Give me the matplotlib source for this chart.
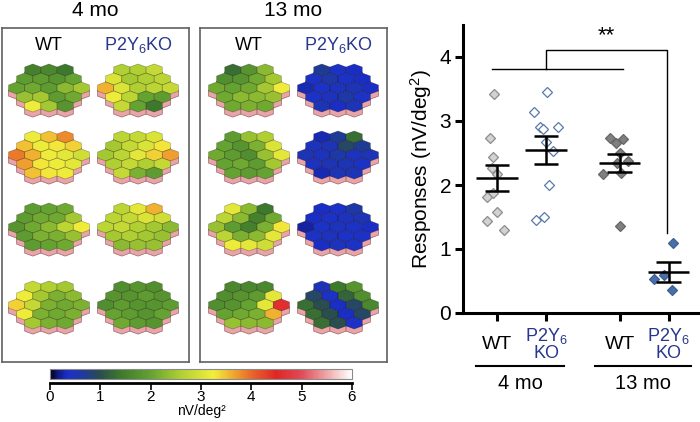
import numpy as np
import matplotlib
matplotlib.use("Agg")
import matplotlib.pyplot as plt
from matplotlib.colors import LinearSegmentedColormap, Normalize
from matplotlib.collections import PolyCollection
from matplotlib.cm import ScalarMappable

plt.rcParams['font.family'] = ['Liberation Sans', 'DejaVu Sans']
plt.rcParams['mathtext.fontset'] = 'custom'
plt.rcParams['mathtext.rm'] = 'Liberation Sans'
plt.rcParams['mathtext.it'] = 'Liberation Sans:italic'

# ---- hex maps (19 cells each, rows of 3,4,5,4,3 from top) ----
wt_4mo = [
    [1.5, 1.6, 1.4, 1.9, 1.9, 1.8, 2.0, 2.0, 2.1, 1.9, 2.3, 2.5, 2.4, 2.5, 1.9, 2.1, 3.2, 2.5, 1.8],
    [3.2, 3.5, 3.8, 3.5, 3.2, 3.3, 3.4, 3.9, 3.6, 3.2, 3.1, 2.9, 3.7, 3.3, 3.2, 3.1, 3.5, 3.3, 3.2],
    [1.9, 2.0, 2.1, 1.9, 2.1, 2.1, 2.5, 1.8, 2.1, 2.3, 2.7, 3.2, 1.9, 2.2, 2.2, 2.4, 1.9, 2.0, 2.1],
    [2.8, 2.6, 2.5, 3.2, 2.5, 2.2, 2.3, 3.4, 2.8, 2.2, 2.1, 2.2, 3.2, 2.2, 2.1, 2.2, 2.5, 2.2, 2.1],
]
ko_4mo = [
    [2.6, 2.6, 2.8, 3.0, 2.5, 2.6, 2.7, 3.6, 3.0, 2.6, 2.7, 2.8, 3.2, 2.7, 2.0, 1.9, 2.8, 2.0, 1.4],
    [2.7, 2.8, 3.0, 2.5, 2.8, 3.0, 3.3, 2.5, 2.7, 3.1, 3.4, 3.7, 2.6, 2.8, 2.6, 2.8, 2.8, 2.2, 1.9],
    [2.7, 3.1, 3.6, 2.7, 2.8, 3.0, 2.9, 2.7, 2.8, 2.6, 2.5, 2.3, 2.5, 2.6, 2.5, 2.4, 2.3, 2.4, 2.4],
    [1.7, 1.8, 1.7, 1.8, 1.8, 1.9, 1.8, 1.7, 1.9, 1.8, 1.8, 1.9, 2.0, 1.9, 1.8, 2.0, 2.1, 1.9, 1.8],
]
wt_13mo = [
    [1.3, 1.8, 2.3, 1.7, 1.8, 2.1, 2.5, 2.1, 2.0, 2.1, 2.5, 3.2, 2.1, 2.3, 2.3, 2.4, 2.1, 2.2, 2.1],
    [1.9, 2.4, 2.6, 2.0, 1.8, 2.2, 3.0, 2.1, 1.9, 1.7, 2.4, 3.1, 2.0, 2.1, 1.9, 2.5, 2.0, 1.9, 2.0],
    [3.1, 2.3, 1.4, 2.7, 2.3, 1.5, 2.1, 2.4, 1.9, 1.5, 2.2, 3.3, 2.7, 2.2, 2.3, 3.1, 3.2, 3.1, 2.9],
    [1.6, 1.6, 1.6, 1.7, 1.8, 1.9, 3.1, 1.7, 1.8, 2.0, 3.1, 4.6, 2.0, 2.1, 2.2, 3.6, 2.4, 2.3, 2.3],
]
ko_13mo = [
    [0.7, 0.4, 0.35, 0.4, 0.6, 0.4, 0.35, 0.3, 0.4, 0.45, 0.5, 0.35, 0.4, 0.45, 0.6, 0.4, 0.5, 0.35, 0.5],
    [0.3, 0.7, 1.3, 0.45, 0.5, 0.9, 0.7, 0.5, 0.45, 0.6, 0.45, 0.5, 0.45, 0.5, 0.5, 0.4, 0.3, 0.5, 0.5],
    [0.35, 0.4, 0.6, 0.35, 0.4, 0.45, 0.5, 0.25, 0.4, 0.45, 0.4, 0.35, 0.4, 0.45, 0.4, 0.4, 0.35, 0.45, 0.4],
    [0.5, 1.4, 1.8, 0.9, 0.4, 1.2, 1.7, 1.3, 1.0, 0.35, 0.9, 1.6, 1.3, 1.0, 0.35, 0.9, 1.3, 1.0, 0.4],
]

# colour scale of the maps (nV/deg^2)
cmap_vals = [0.0, 0.15, 0.35, 0.65, 1.0, 1.4, 2.0, 2.6, 3.25, 3.6, 4.0, 4.5, 5.0, 5.6, 6.0]
cmap_cols = ['#000018', '#101a80', '#1c30cc', '#1e3a9c', '#2a4e4c', '#3e7a2c', '#64a232',
             '#b0d032', '#f2ee3c', '#f0b030', '#e8682a', '#e02626', '#e04a56', '#f0b8b8', '#ffffff']

# ---- scatter data ----
groups = ['WT', 'P2Y$_6$\nKO', 'WT', 'P2Y$_6$\nKO']
x_pos = [1, 2, 3.5, 4.5]
resp = [
    [3.42, 2.74, 2.44, 2.26, 2.17, 1.88, 1.82, 1.58, 1.43, 1.30],
    [3.46, 3.14, 2.90, 2.88, 2.90, 2.67, 2.53, 2.00, 1.45, 1.50],
    [2.74, 2.66, 2.72, 2.50, 2.35, 2.38, 2.17, 2.19, 1.36],
    [1.09, 0.59, 0.53, 0.36],
]
jitter = [
    [-0.06, -0.14, -0.08, -0.10, 0.00, -0.08, -0.20, 0.00, -0.20, 0.14],
    [0.02, -0.24, -0.12, -0.06, 0.24, 0.00, 0.14, 0.06, -0.20, -0.04],
    [-0.20, -0.08, 0.06, 0.00, -0.06, 0.18, -0.33, 0.02, 0.00],
    [0.08, -0.10, -0.29, 0.06],
]
face = ['#d2d2d2', '#ffffff', '#808080', '#4a6ea8']
edge = ['#8c8c8c', '#5a78aa', '#666666', '#3e5f96']
ko_blue = '#26378c'

fig = plt.figure(figsize=(7, 4.22), dpi=100)
W, H = 700.0, 422.0

def px_axes(x0, y0, w, h):
    return fig.add_axes([x0 / W, 1 - (y0 + h) / H, w / W, h / H])

# frames around the two age groups
for x0, title in [(2, '4 mo'), (200, '13 mo')]:
    box = px_axes(x0, 28, 187, 334)
    box.set_xticks([])
    box.set_yticks([])
    for s in box.spines.values():
        s.set_color('#606060')
        s.set_linewidth(1.2)
    box.set_title(title, fontsize=15, pad=9)

col_x = [49, 138, 249, 338]
row_y = [88, 155, 227, 305]
col_lab = ['WT', 'P2Y$_6$KO', 'WT', 'P2Y$_6$KO']
for cx, lab in zip(col_x, col_lab):
    fig.text(cx / W, 1 - 45 / H, lab, ha='center', va='center', fontsize=13,
             color='black' if lab == 'WT' else ko_blue)

# hex geometry
cmap = LinearSegmentedColormap.from_list(
    'erg', [(v / 6.0, c) for v, c in zip(cmap_vals, cmap_cols)])
norm = Normalize(0, 6)
centers = []
for j, n in enumerate([3, 4, 5, 4, 3]):
    for i in range(n):
        centers.append(((i - (n - 1) / 2) * np.sqrt(3), (2 - j) * 1.5))
centers = np.array(centers)
ang = np.deg2rad(90 + 60 * np.arange(6))
hexagon = np.column_stack([np.cos(ang), np.sin(ang)])
faces = [c + hexagon for c in centers]
sides = [c + hexagon - [0, 0.85] for c in centers]

maps = [wt_4mo, ko_4mo, wt_13mo, ko_13mo]
for ci, m in enumerate(maps):
    for ri, vals in enumerate(m):
        ax_m = px_axes(col_x[ci] - 50, row_y[ri] - 36, 100, 72)
        ax_m.axis('off')
        ax_m.add_collection(PolyCollection(sides, facecolors='#e8a4a8',
                                           edgecolors='#9a6464', linewidths=0.5))
        ax_m.add_collection(PolyCollection(faces, facecolors=cmap(norm(np.array(vals))),
                                           edgecolors=(0, 0, 0, 0.3), linewidths=0.5))
        ax_m.set_xlim(-5.35, 5.35)
        ax_m.set_ylim(-6.0, 6.0)

# colour bar
cax = px_axes(50, 369, 302, 10)
cb = fig.colorbar(ScalarMappable(norm=norm, cmap=cmap), cax=cax, orientation='horizontal')
cb.set_ticks([])
cb.outline.set_edgecolor('#8a8a8a')
cb.outline.set_linewidth(0.8)
tax = px_axes(50, 383, 302, 0.01)
for s in ['left', 'right', 'top']:
    tax.spines[s].set_visible(False)
tax.spines['bottom'].set_linewidth(2)
tax.set_yticks([])
tax.set_xlim(0, 6)
tax.set_xticks(range(7))
tax.tick_params(axis='x', length=5, width=1.2, pad=0, labelsize=11)
fig.text(201 / W, 1 - 411 / H, 'nV/deg²', ha='center', va='center', fontsize=10)

# scatter panel
ax = px_axes(463, 25, 237, 288)
for k in range(4):
    v = np.array(resp[k])
    ax.plot(x_pos[k] + np.array(jitter[k]), v, 'D', ms=5, mfc=face[k], mec=edge[k],
            mew=0.9, ls='none', zorder=2)
    mean = v.mean()
    sem = v.std(ddof=1) / np.sqrt(len(v))
    x = x_pos[k]
    ax.hlines(mean, x - 0.42, x + 0.42, color='black', lw=1.8, zorder=3)
    ax.vlines(x, mean - sem, mean + sem, color='black', lw=1.8, zorder=3)
    ax.hlines([mean - sem, mean + sem], x - 0.25, x + 0.25, color='black', lw=1.8, zorder=3)

# significance bracket
ax.plot([0.9, 3.57], [3.82, 3.82], color='black', lw=1)
ax.plot([2.0, 2.0, 4.47, 4.47], [3.82, 4.11, 4.11, 1.25], color='black', lw=1)
ax.text(3.22, 4.17, '**', ha='center', va='bottom', fontsize=16)

ax.set_xlim(0.306, 5.14)
ax.set_ylim(0, 4.5)
ax.set_yticks([0, 1, 2, 3, 4])
ax.spines['top'].set_visible(False)
ax.spines['right'].set_visible(False)
ax.spines['left'].set_linewidth(2.2)
ax.spines['bottom'].set_linewidth(2.2)
ax.tick_params(axis='y', length=5.5, width=2.2, labelsize=15, pad=3)
ax.tick_params(axis='x', length=5.5, width=2.2, pad=17)
ax.set_xticks(x_pos)
ax.set_xticklabels(groups)
for lab in ax.get_xticklabels():
    lab.set_va('center')
    lab.set_linespacing(0.9)
    if 'KO' in lab.get_text():
        lab.set_color(ko_blue)
        lab.set_fontsize(13)
    else:
        lab.set_fontsize(14)
ax.set_ylabel('Responses (nV/deg$^2$)', fontsize=15, labelpad=4)

tr = ax.get_xaxis_transform()
for (x0, x1), name in [((0.57, 2.37), '4 mo'), ((3.0, 4.96), '13 mo')]:
    ax.plot([x0, x1], [-0.184, -0.184], transform=tr, clip_on=False, color='black', lw=1.5)
    ax.text((x0 + x1) / 2, -0.245, name, transform=tr, ha='center', va='center', fontsize=14.5)

fig.savefig('out.png', dpi=100)
